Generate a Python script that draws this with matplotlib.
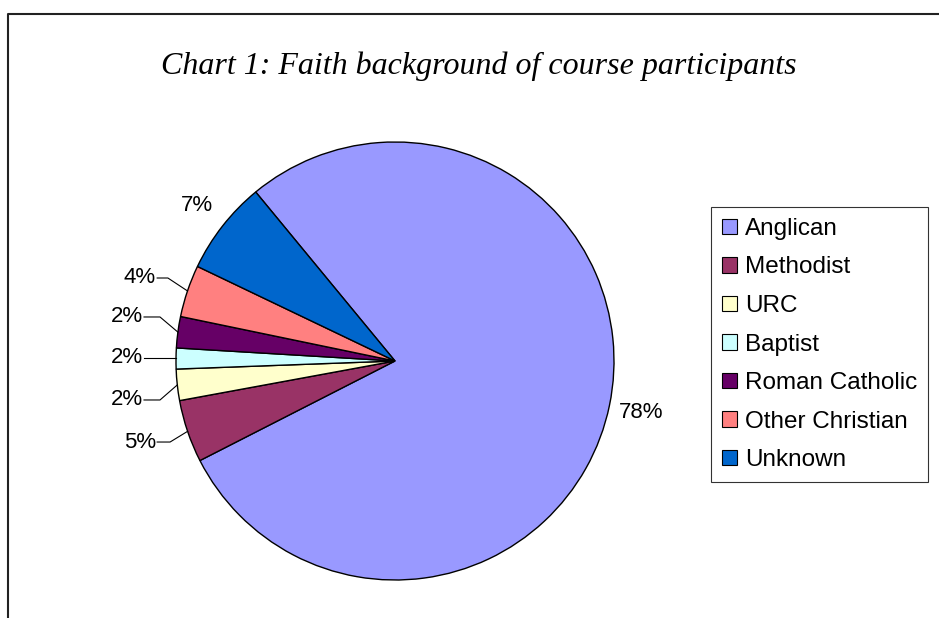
import numpy as np
import matplotlib
matplotlib.use("Agg")
import matplotlib.pyplot as plt
from matplotlib.lines import Line2D

# Faith background counts (rounded labels match)
faiths = ["Anglican", "Methodist", "URC", "Baptist", "Roman Catholic",
          "Other Christian", "Unknown"]
counts = [102, 6, 3, 2, 3, 5, 9]
colors = ["#9999FF", "#993366", "#FFFFCC", "#CCFFFF", "#660066",
          "#FF8080", "#0066CC"]

W, H = 939, 618
fig = plt.figure(figsize=(W / 100, H / 100), dpi=100)
fig.patch.set_facecolor("white")

# pie centre (395, 361) px, radius 219 px
cx, cy, r = 395, 361, 219
ax = fig.add_axes([(cx - r) / W, (H - cy - r) / H, 2 * r / W, 2 * r / H])
ax.set_aspect("equal")
ax.axis("off")

start = 129.5
wedges, _ = ax.pie(counts, colors=colors, startangle=start, counterclock=False,
                   radius=1, center=(0, 0), frame=False,
                   wedgeprops=dict(edgecolor="black", linewidth=1.0))
ax.set_xlim(-1, 1)
ax.set_ylim(-1, 1)

total = sum(counts)
pcts = [100 * c / total for c in counts]

# label layout: None -> placed radially, otherwise (text right x, y, elbow x)
layout = [None,
          (-1.091, -0.370, -1.027),
          (-1.151, -0.178, -1.073),
          (-1.151, 0.014, None),
          (-1.151, 0.201, -1.073),
          (-1.091, 0.379, -1.037),
          None]

lab_font = dict(fontsize=16, family="Liberation Sans", color="black")
for w, p, lay in zip(wedges, pcts, layout):
    mid = np.deg2rad((w.theta1 + w.theta2) / 2)
    txt = f"{p:.0f}%"
    if lay is None:
        ax.text(1.15 * np.cos(mid), 1.15 * np.sin(mid), txt,
                ha="center", va="center", **lab_font)
    else:
        tx, ty, ex = lay
        px, py = np.cos(mid), np.sin(mid)
        if ex is None:
            xs, ys = [tx + 0.005, px], [ty, ty]
        else:
            xs, ys = [tx + 0.005, ex, px], [ty, ty, py]
        ax.plot(xs, ys, color="black", linewidth=0.8, clip_on=False)
        ax.text(tx, ty, txt, ha="right", va="center", **lab_font)

fig.text(479 / W, 1 - 66 / H, "Chart 1: Faith background of course participants",
         ha="center", va="center", fontsize=23, style="italic",
         family="Liberation Serif")

leg = fig.legend(wedges, faiths, loc="upper left",
                 bbox_to_anchor=(711 / W, 1 - 207 / H),
                 prop=dict(family="Liberation Sans", size=17.5),
                 frameon=True, fancybox=False, handlelength=0.6,
                 handleheight=0.6, handletextpad=0.35, labelspacing=0.68,
                 borderpad=0.45, borderaxespad=0)
leg.get_frame().set_edgecolor("black")
leg.get_frame().set_linewidth(0.8)
for h in leg.legend_handles:
    h.set_linewidth(0.8)

# outer chart border (only left and top visible in the crop)
bx, by = 8 / W, 1 - 14 / H
fig.add_artist(Line2D([bx, bx, 1.0], [0.0, by, by], transform=fig.transFigure,
                      color="#222222", linewidth=1.5))

fig.savefig("out.png", dpi=100)
